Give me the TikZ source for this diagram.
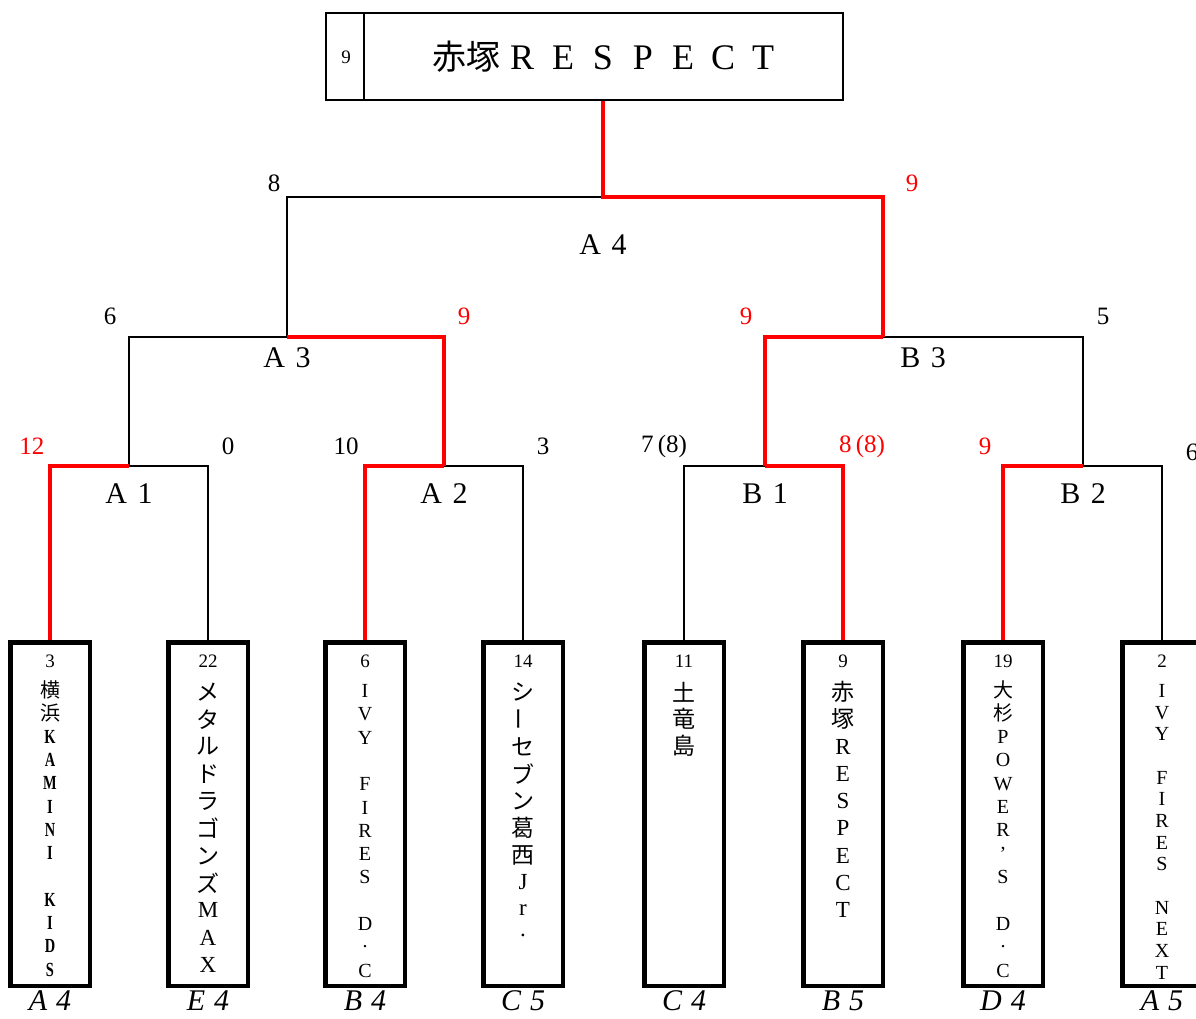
\documentclass[tikz,border=0pt]{standalone}
\usepackage{fontspec}
\setmainfont{Liberation Serif}
\newfontfamily\jp{Noto Sans CJK JP}
\usepackage{graphicx}
\definecolor{wred}{RGB}{255,0,0}
\newcommand\nk[1]{\scalebox{0.72}[1]{\textbf{#1}}}
\newcommand\dt{\smash{.}}
\newcommand\teamcol[5]{\foreach \c [count=\i from 0] in {#5} {\node[#4] (c#1x\i) at (#1,{#2+\i*#3}) {\c};}}
\tikzset{
 wline/.style={line width=1.5pt,black},
 rline/.style={line width=4pt,wred},
 teambox/.style={draw,line width=3pt,minimum width=78pt,minimum height=342pt,inner sep=0pt},
 score/.style={font=\fontsize{25}{25}\selectfont,inner sep=0pt},
 rscore/.style={score,text=wred},
 level/.style={font=\fontsize{30}{30}\selectfont,inner sep=0pt},
 grp/.style={font=\fontsize{30}{30}\selectfont\itshape,inner sep=0pt},
 bnum/.style={font=\fontsize{19}{19}\selectfont,inner sep=0pt},
 bchar/.style={font=\fontsize{23}{23}\selectfont,inner sep=0pt},
 schar/.style={font=\fontsize{20}{20}\selectfont,inner sep=0pt},
 titlech/.style={font=\fontsize{36}{36}\selectfont,inner sep=0pt},
}
\begin{document}
\begin{tikzpicture}[x=1pt,y=-1pt]
\useasboundingbox (0,0) rectangle (1196,1018);
\clip (0,0) rectangle (1196,1018);
% champion box
\node[draw,line width=2.5pt,minimum width=517pt,minimum height=87pt,inner sep=0pt] (champ) at (584.5,56.5) {};
\draw[line width=2.5pt] ([xshift=39pt]champ.north west) -- ([xshift=39pt]champ.south west);
\node[font=\fontsize{19}{19}\selectfont,inner sep=0pt] (cnum) at (346,57) {9};
\node[font=\fontsize{34}{34}\selectfont\jp,inner sep=0pt] (ctitle) at (466,57) {赤塚};
\foreach \ch/\x [count=\k] in {R/522,E/563,S/603,P/643,E/683,C/723,T/763}
  \node[titlech] (ct\k) at (\x,58) {\ch};
% team boxes
\foreach \x [count=\n] in {50,208,365,523,684,843,1003,1162}
  \node[teambox] (t\n) at (\x,814) {};
% junctions
\coordinate (jA1) at (129,466);
\coordinate (jA2) at (444,466);
\coordinate (jB1) at (765,466);
\coordinate (jB2) at (1083,466);
\coordinate (jA3) at (287,337);
\coordinate (jB3) at (883,337);
\coordinate (jA4) at (603,197);
% black lines
\draw[wline] (t2.north) |- (jA1);
\draw[wline] (jA1) |- (jA3);
\draw[wline] (t4.north) |- (jA2);
\draw[wline] (jA3) |- (jA4);
\draw[wline] (t5.north) |- (jB1);
\draw[wline] (t8.north) |- (jB2);
\draw[wline] (jB2) |- (jB3);
% red lines
\draw[rline] (t1.north) |- (jA1);
\draw[rline] (t3.north) |- (jA2);
\draw[rline] (jA2) |- (jA3);
\draw[rline] (t6.north) |- (jB1);
\draw[rline] (jB1) |- (jB3);
\draw[rline] (t7.north) |- (jB2);
\draw[rline] (jB3) |- (jA4) -- (jA4 |- champ.south);
% redraw boxes on top
\foreach \n in {1,...,8} \draw[line width=3pt] (t\n.north west) rectangle (t\n.south east);
% scores
\node[score] (s1) at (274,183) {8};
\node[rscore] (s2) at (912,183) {9};
\node[score] (s3) at (110,316) {6};
\node[rscore] (s4) at (464,316) {9};
\node[rscore] (s5) at (746,316) {9};
\node[score] (s6) at (1103,316) {5};
\node[rscore] (s7) at (32,446) {12};
\node[score] (s8) at (228,446) {0};
\node[score] (s9) at (346,446) {10};
\node[score] (s10) at (543,446) {3};
\node[score] (s11) at (664,446) {7\,(8)};
\node[rscore] (s12) at (862,446) {8\,(8)};
\node[rscore] (s13) at (985,446) {9};
\node[score] (s14) at (1192,452) {6};
% round labels
\node[level] (lA4) at (603,245) {A\hspace{0.35em}4};
\node[level] (lA3) at (287,358) {A\hspace{0.35em}3};
\node[level] (lB3) at (923,358) {B\hspace{0.35em}3};
\node[level] (lA1) at (129,494) {A\hspace{0.35em}1};
\node[level] (lA2) at (444,494) {A\hspace{0.35em}2};
\node[level] (lB1) at (765,494) {B\hspace{0.35em}1};
\node[level] (lB2) at (1083,494) {B\hspace{0.35em}2};
% box numbers
\foreach \x/\v [count=\n] in {50/3,208/22,365/6,523/14,684/11,843/9,1003/19,1162/2}
  \node[bnum] (bn\n) at (\x,661) {\v};
% team names
\teamcol{50}{690}{23.3}{schar}{{\jp 横},{\jp 浜},\nk{K},\nk{A},\nk{M},\nk{I},\nk{N},\nk{I},{},\nk{K},\nk{I},\nk{D},\nk{S}}
\teamcol{208}{692}{27.3}{bchar}{{\jp メ},{\jp タ},{\jp ル},{\jp ド},{\jp ラ},{\jp ゴ},{\jp ン},{\jp ズ},M,A,X}
\teamcol{365}{691}{23.3}{schar}{I,V,Y,{},F,I,R,E,S,{},D,\dt,C}
\teamcol{523}{692}{27.2}{bchar}{{\jp シ},{\rotatebox{90}{\jp ー}},{\jp セ},{\jp ブ},{\jp ン},{\jp 葛},{\jp 西},J,r,\dt}
\teamcol{684}{692}{27}{bchar}{{\jp 土},{\jp 竜},{\jp 島}}
\teamcol{843}{692}{27.25}{bchar}{{\jp 赤},{\jp 塚},R,E,S,P,E,C,T}
\teamcol{1003}{690}{23.4}{schar}{{\jp 大},{\jp 杉},P,O,W,E,R,’,S,{},D,\dt,C}
\teamcol{1162}{691}{21.65}{schar}{I,V,Y,{},F,I,R,E,S,{},N,E,X,T}
% group labels
\foreach \x/\a/\b [count=\n] in {50/A/4,208/E/4,365/B/4,523/C/5,684/C/4,843/B/5,1003/D/4,1162/A/5}
  \node[grp] (g\n) at (\x,1001) {\a\hspace{0.3em}\b};
\end{tikzpicture}
\end{document}
